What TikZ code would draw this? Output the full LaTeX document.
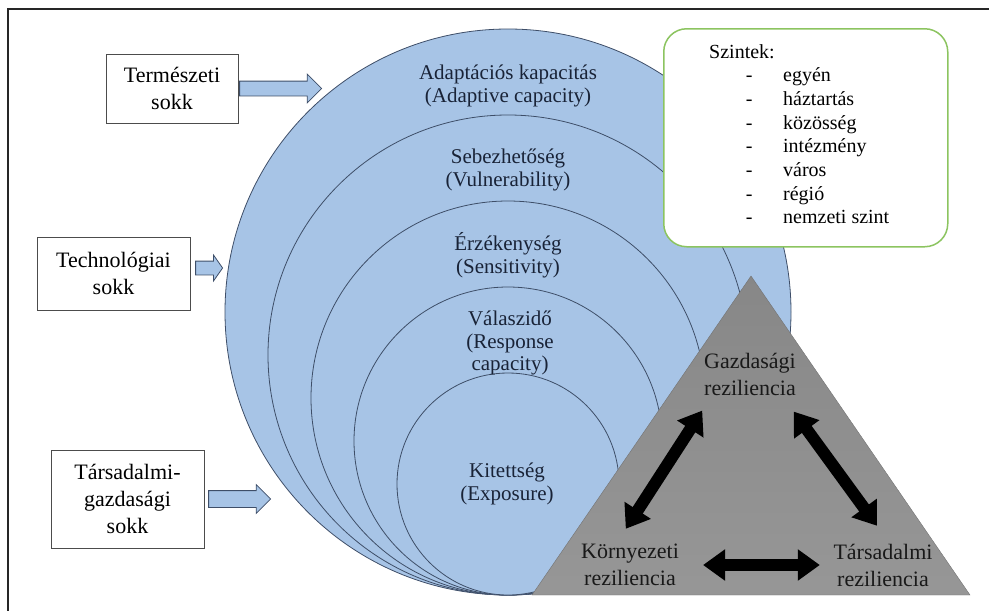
\documentclass[tikz,border=0pt]{standalone}
\usepackage{fontspec}
\setmainfont{Liberation Serif}
\newfontfamily\tnr{Liberation Serif}
\usetikzlibrary{arrows.meta,shapes.arrows,positioning,calc}

\definecolor{korkek}{RGB}{167,196,230}
\definecolor{korvonal}{RGB}{62,78,104}
\definecolor{korszoveg}{RGB}{25,35,55}
\definecolor{zold}{RGB}{140,196,96}

\newcommand{\szint}[1]{\hspace*{36.7pt}\makebox[37.3pt][l]{-}#1}

\begin{document}
\begin{tikzpicture}[
    x=1pt, y=-1pt,
    sokkbox/.style={draw=black!70, fill=white, minimum width=153, minimum height=73, align=center, inner sep=2pt, font=\tnr\fontsize{22}{27}\selectfont},
    blokknyil/.style={shape=single arrow, draw=korvonal, fill=korkek, line width=0.8pt, inner xsep=0pt, inner ysep=7pt, single arrow head extend=7pt},
    kor/.style={draw=korvonal, fill=korkek, line width=0.8pt},
    korfelirat/.style={align=center, text=korszoveg, inner sep=0pt, font=\tnr\fontsize{21}{22.5}\selectfont},
    szintkeret/.style={draw=zold, line width=1.5pt, fill=white, rounded corners=23pt},
    rezil/.style={align=center, text=black!90, inner sep=0pt, font=\tnr\fontsize{22}{27}\selectfont},
    dupla/.style={line width=12pt, {Triangle[width=30pt,length=22pt]}-{Triangle[width=30pt,length=22pt]}}
]
\useasboundingbox (0,0) rectangle (989,611);
\draw[line width=2pt, black!85] (8,611) -- (8,9) -- (989,9);

% sokkok
\node[sokkbox, minimum width=132, minimum height=69] (termsokk) at (172,88.5) {Természeti\\sokk};
\node[sokkbox] (techsokk) at (113.5,273.5) {Technológiai\\sokk};
\node[sokkbox, minimum height=98] (tarssokk) at (127.5,499) {Társadalmi-\\gazdasági\\sokk};

\node[blokknyil, minimum height=82, right=1pt of termsokk] (nyil1) {};
\node[blokknyil, minimum height=27, inner ysep=6.5pt, single arrow head extend=6pt, single arrow tip angle=110, anchor=west] (nyil2) at ([xshift=5pt,yshift=5.5pt]techsokk.east) {};
\node[blokknyil, minimum height=62, inner ysep=8pt, single arrow head extend=6pt, right=4pt of tarssokk] (nyil3) {};

% korok
\draw[kor] (508,312) circle[radius=283pt];
\draw[kor] (508,355) circle[radius=240pt];
\draw[kor] (508,398) circle[radius=197pt];
\draw[kor] (508,441) circle[radius=154pt];
\draw[kor] (508,484) circle[radius=111pt];

\node[korfelirat] (adapt) at (508,86) {Adaptációs kapacitás\\(Adaptive capacity)};
\node[korfelirat] (sebez) at (508,170) {Sebezhetőség\\(Vulnerability)};
\node[korfelirat] (erzek) at (508,255) {Érzékenység\\(Sensitivity)};
\node[korfelirat] (valasz) at (510,343) {Válaszidő\\(Response\\capacity)};
\node[korfelirat] (kitett) at (507,484) {Kitettség\\(Exposure)};

% szintek
\node[szintkeret, minimum width=284, minimum height=218, anchor=north west] (szintek) at (663,28) {};
\node[anchor=north west, align=left, inner sep=0pt, font=\tnr\fontsize{20}{23.7}\selectfont] (szintlista) at (709,44)
    {Szintek:\\\szint{egyén}\\\szint{háztartás}\\\szint{közösség}\\\szint{intézmény}\\\szint{város}\\\szint{régió}\\\szint{nemzeti szint}};

% haromszog
\coordinate (csucs) at (751,276);
\coordinate (balalap) at (532,595);
\coordinate (jobbalap) at (970,595);
\draw[black!55, top color=black!47, bottom color=black!41] (csucs) -- (balalap) -- (jobbalap) -- cycle;

\node[rezil] (gazd) at (750,374) {Gazdasági\\reziliencia};
\node[rezil] (korny) at (630,565) {Környezeti\\reziliencia};
\node[rezil] (tars) at (883,565) {Társadalmi\\reziliencia};

\draw[dupla, shorten <=18pt, shorten >=18pt] ([xshift=8pt]gazd.south west) -- ([xshift=-14pt]korny.north);
\draw[dupla, shorten <=20pt, shorten >=22pt] ([xshift=-14pt]gazd.south east) -- ([xshift=7pt]tars.north);
\draw[dupla, shorten <=24pt, shorten >=13.5pt] (korny.east) -- (tars.west);
\end{tikzpicture}
\end{document}
